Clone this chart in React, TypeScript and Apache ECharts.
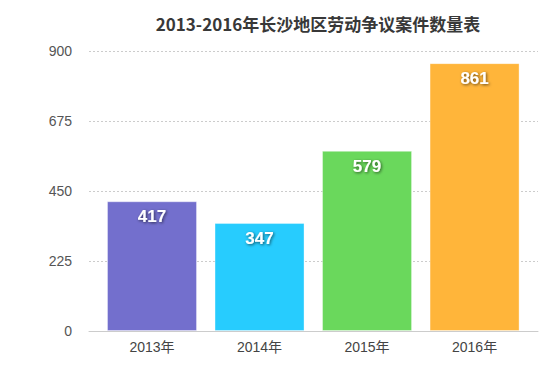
import React, { useEffect, useRef } from "react";
import * as echarts from "echarts";

const categories = ["2013年", "2014年", "2015年", "2016年"];
const values = [417, 347, 579, 861];
const barColors = ["#736fcd", "#27ccfe", "#6ad85c", "#ffb53a"];
const title = "2013-2016年长沙地区劳动争议案件数量表";

export default function App() {
  const ref = useRef<HTMLDivElement>(null);
  useEffect(() => {
    document.body.style.margin = "0";
    const chart = echarts.init(ref.current!, null, { renderer: "svg" });
    chart.setOption({
      animation: false,
      backgroundColor: "#ffffff",
      title: {
        text: title,
        left: 313,
        textAlign: "center",
        top: 10,
        textStyle: { fontSize: 17, fontWeight: "bold", color: "#383838", fontFamily: "Noto Sans CJK SC, sans-serif" },
      },
      grid: { left: 89, right: 15, top: 51, bottom: 41 },
      xAxis: {
        type: "value",
        min: 0.414,
        max: 4.59,
        splitLine: { show: false },
        axisLine: { show: true, onZero: false, lineStyle: { color: "#cccccc", width: 1 } },
        axisTick: { show: false },
        axisLabel: {
          customValues: [1, 2, 3, 4],
          formatter: (v: number) => categories[Math.round(v) - 1] ?? "",
          color: "#444",
          fontSize: 14,
          margin: 9,
          fontFamily: "Liberation Sans, Noto Sans CJK SC, sans-serif",
        },
      },
      yAxis: {
        type: "value",
        min: 0,
        max: 900,
        interval: 225,
        axisLine: { show: false },
        axisTick: { show: false },
        axisLabel: { color: "#555", fontSize: 14, margin: 17, fontFamily: "Liberation Sans, Arial, sans-serif" },
        splitLine: { lineStyle: { color: "#cccccc", type: [2, 2], width: 1 } },
      },
      series: [
        {
          type: "bar",
          barWidth: 90,
          data: values.map((v, i) => ({
            value: [i + 1, v],
            itemStyle: { color: barColors[i], borderColor: "rgba(255,255,255,0.35)", borderWidth: 1 },
          })),
          label: {
            show: true,
            position: "insideTop",
            distance: 7,
            formatter: (p: any) => String(p.value[1]),
            color: "#fff",
            fontSize: 17,
            fontWeight: "bold",
            fontFamily: "Liberation Sans, Arial, sans-serif",
            textShadowColor: "rgba(0,0,0,0.6)",
            textShadowBlur: 3,
            textShadowOffsetX: 1,
            textShadowOffsetY: 1,
          },
        },
      ],
    });
    return () => chart.dispose();
  }, []);
  return <div ref={ref} style={{ width: 553, height: 372 }} />;
}
